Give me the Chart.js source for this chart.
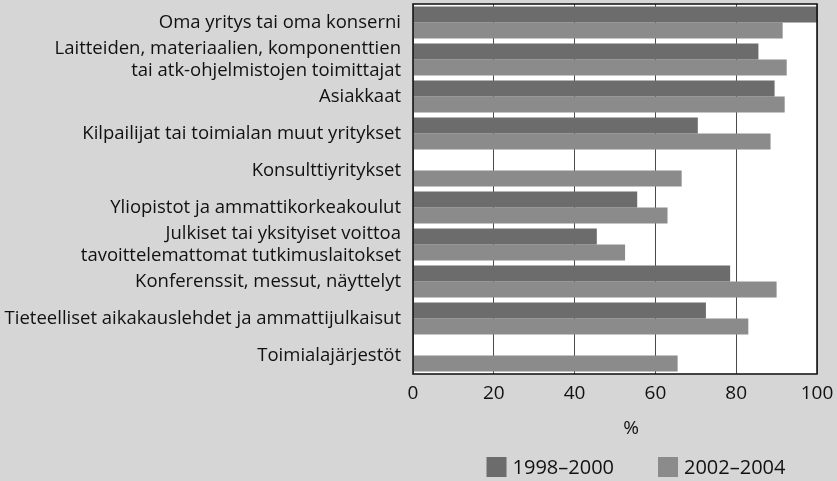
<!DOCTYPE html>
<html>
<head>
<meta charset="utf-8">
<script src="https://cdn.jsdelivr.net/npm/chart.js@4"></script>
<style>
  html, body { margin: 0; padding: 0; background: #d6d6d6; }
  #wrap { width: 837px; height: 481px; }
</style>
</head>
<body>
<div id="wrap"><canvas id="chart" width="837" height="481"></canvas></div>
<script>
const categories = [
  "Oma yritys tai oma konserni",
  ["Laitteiden, materiaalien, komponenttien", "tai atk-ohjelmistojen toimittajat"],
  "Asiakkaat",
  "Kilpailijat tai toimialan muut yritykset",
  "Konsulttiyritykset",
  "Yliopistot ja ammattikorkeakoulut",
  ["Julkiset tai yksityiset voittoa", "tavoittelemattomat tutkimuslaitokset"],
  "Konferenssit, messut, näyttelyt",
  "Tieteelliset aikakauslehdet ja ammattijulkaisut",
  "Toimialajärjestöt"
];
const seriesNames = ["1998\u20132000", "2002\u20132004"];
const values1998 = [100, 85.5, 89.5, 70.5, null, 55.5, 45.5, 78.5, 72.5, null];
const values2002 = [91.5, 92.5, 92, 88.5, 66.5, 63, 52.5, 90, 83, 65.5];
const xTicks = [0, 20, 40, 60, 80, 100];
const axisTitle = "%";

const PAGE_BG = "#d6d6d6";
const COLORS = ["#6c6c6c", "#8b8b8b"];
const FONT = "'Open Sans', 'DejaVu Sans', sans-serif";

Chart.defaults.font.family = FONT;
Chart.defaults.color = "#111";

// grey page, white plot, frame, "%" and the legend under the axis
const paper = {
  id: "paper",
  beforeDraw(chart) {
    const { ctx, chartArea: a } = chart;
    ctx.save();
    ctx.fillStyle = PAGE_BG;
    ctx.fillRect(0, 0, chart.width, chart.height);
    ctx.fillStyle = "#ffffff";
    ctx.fillRect(a.left, a.top, a.right - a.left, a.bottom - a.top);
    ctx.restore();
  },
  afterDatasetsDraw(chart) {
    const { ctx, chartArea: a } = chart;
    ctx.save();
    ctx.strokeStyle = "#1a1a1a";
    ctx.lineWidth = 1.6;
    ctx.strokeRect(a.left, a.top, a.right - a.left, a.bottom - a.top);
    ctx.restore();
  },
  afterDraw(chart) {
    const { ctx } = chart;
    ctx.save();
    ctx.fillStyle = "#111";
    ctx.textBaseline = "middle";
    ctx.textAlign = "center";
    ctx.font = "19px " + FONT;
    ctx.fillText(axisTitle, 631, 429);

    ctx.font = "20px " + FONT;
    ctx.textAlign = "left";
    const box = 20, gap = 6, spacing = 44;
    const items = chart.data.datasets.map(ds => ({
      label: ds.label, color: ds.backgroundColor, w: box + gap + ctx.measureText(ds.label).width
    }));
    const total = items.reduce((s, it) => s + it.w, 0) + spacing * (items.length - 1);
    let x = 636 - total / 2;
    const y = 467;
    items.forEach(it => {
      ctx.fillStyle = it.color;
      ctx.fillRect(x, y - box / 2, box, box);
      ctx.fillStyle = "#111";
      ctx.fillText(it.label, x + box + gap, y + 1);
      x += it.w + spacing;
    });
    ctx.restore();
  }
};

new Chart(document.getElementById("chart"), {
  type: "bar",
  data: {
    labels: categories,
    datasets: [
      { label: seriesNames[0], data: values1998, backgroundColor: COLORS[0] },
      { label: seriesNames[1], data: values2002, backgroundColor: COLORS[1] }
    ]
  },
  options: {
    indexAxis: "y",
    responsive: false,
    animation: false,
    devicePixelRatio: 1,
    layout: { padding: { top: 4, right: 20, bottom: 0, left: 0 } },
    datasets: {
      bar: { categoryPercentage: 0.87, barPercentage: 1, borderWidth: 0 }
    },
    scales: {
      x: {
        min: 0,
        max: 100,
        afterBuildTicks: scale => { scale.ticks = xTicks.map(v => ({ value: v })); },
        afterFit: scale => {
          scale.height = 107;
          scale.paddingLeft = 0;
          scale.paddingRight = 0;
        },
        grid: { color: "#4a4a4a", lineWidth: 1, drawTicks: false },
        border: { display: false },
        ticks: { font: { size: 19 }, padding: 8, color: "#111" }
      },
      y: {
        afterFit: scale => {
          scale.width = 413;
          scale.paddingTop = 0;
          scale.paddingBottom = 0;
        },
        grid: { display: false, drawTicks: false },
        border: { display: false },
        ticks: { font: { size: 18.5, lineHeight: 1.17 }, padding: 12, color: "#111", autoSkip: false }
      }
    },
    plugins: {
      legend: { display: false },
      tooltip: { enabled: false }
    }
  },
  plugins: [paper]
});
</script>
</body>
</html>
